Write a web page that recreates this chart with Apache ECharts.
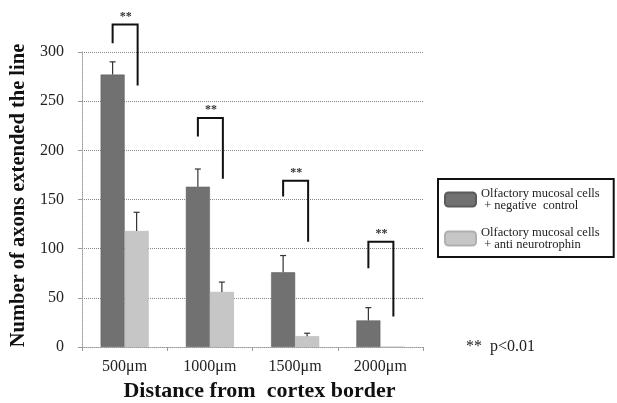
<!DOCTYPE html>
<html>
<head>
<meta charset="utf-8">
<script src="https://cdn.jsdelivr.net/npm/echarts@6/dist/echarts.min.js"></script>
<style>html,body{margin:0;padding:0;background:#fff}#c{width:617px;height:403px}</style>
</head>
<body>
<div id="c"></div>
<script>
var categories = ['500\u03bcm', '1000\u03bcm', '1500\u03bcm', '2000\u03bcm'];
var seriesNames = ['Olfactory mucosal cells\n + negative  control', 'Olfactory mucosal cells\n + anti neurotrophin'];
var controlValues = [277, 163, 76, 27];
var controlErrTop = [290, 181, 93, 40];
var antiValues = [118, 56, 11, 0];
var antiErrTop = [137, 66, 14, 0];
// significance brackets: [top, left end, right end]
var bracketTop = [328, 233, 169, 107];
var bracketLeftEnd = [309, 214, 153, 80];
var bracketRightEnd = [266, 171, 107, 31];
var sigLabel = '**';
var yTicks = [0, 50, 100, 150, 200, 250, 300];

var serif = '"Liberation Serif", "DejaVu Serif", serif';
var chart = echarts.init(document.getElementById('c'));

var errData = [];
for (var i = 0; i < categories.length; i++) {
  errData.push([i, controlValues[i], controlErrTop[i], -12]);
  if (antiErrTop[i] > antiValues[i]) errData.push([i, antiValues[i], antiErrTop[i], 12]);
}
var brData = [];
for (var j = 0; j < categories.length; j++) {
  brData.push([j, bracketTop[j], bracketLeftEnd[j], bracketRightEnd[j]]);
}

chart.setOption({
  animation: false,
  grid: {left: 82, right: 194, top: 52, bottom: 56, containLabel: false, outerBoundsMode: 'none'},
  legend: {
    orient: 'vertical',
    left: 438, top: 179,
    padding: [8, 14, 6, 6],
    borderColor: '#111', borderWidth: 2,
    itemWidth: 31, itemHeight: 14, itemGap: 14,
    data: seriesNames,
    textStyle: {fontFamily: serif, fontSize: 12.5, color: '#222', lineHeight: 12, align: 'left'}
  },
  xAxis: {
    type: 'category',
    data: categories,
    axisLine: {lineStyle: {color: '#999', type: 'dotted'}},
    axisTick: {show: true, length: 4, lineStyle: {color: '#999'}},
    axisLabel: {fontFamily: serif, fontSize: 16, color: '#222', margin: 12},
    name: 'Distance from  cortex border',
    nameLocation: 'middle', nameGap: 32,
    nameTextStyle: {fontFamily: serif, fontSize: 22, fontWeight: 'bold', color: '#111', padding: [0, 0, 0, 14]}
  },
  yAxis: {
    type: 'value', min: 0, max: 300, interval: 50,
    axisLine: {show: true, lineStyle: {color: '#999', type: 'dotted'}},
    axisTick: {show: true, length: 4, lineStyle: {color: '#999'}},
    splitLine: {lineStyle: {color: '#888', type: 'dotted'}},
    axisLabel: {fontFamily: serif, fontSize: 16, color: '#222', margin: 18},
    name: 'Number of axons extended the line',
    nameLocation: 'middle', nameGap: 50, nameRotate: 90,
    nameTextStyle: {fontFamily: serif, fontSize: 20.5, fontWeight: 'bold', color: '#111', padding: [0, 0, 0, 8]}
  },
  series: [
    {name: seriesNames[0], type: 'bar', data: controlValues, barWidth: 24, barGap: '0%',
     itemStyle: {color: '#717171', borderColor: '#5a5a5a', borderWidth: 0.5}},
    {name: seriesNames[1], type: 'bar', data: antiValues, barWidth: 24,
     itemStyle: {color: '#c6c6c6', borderColor: '#b0b0b0', borderWidth: 0.5}},
    {type: 'custom', data: errData, z: 5, silent: true,
     renderItem: function (params, api) {
       var base = api.coord([api.value(0), api.value(1)]);
       var top = api.coord([api.value(0), api.value(2)]);
       var x = base[0] + api.value(3);
       return {type: 'group', children: [
         {type: 'line', shape: {x1: x, y1: base[1], x2: x, y2: top[1]}, style: {stroke: '#333', lineWidth: 1.2}},
         {type: 'line', shape: {x1: x - 3, y1: top[1], x2: x + 3, y2: top[1]}, style: {stroke: '#333', lineWidth: 1.2}}
       ]};
     }},
    {type: 'custom', data: brData, z: 6, silent: true, clip: false,
     renderItem: function (params, api) {
       var c = api.coord([api.value(0), api.value(1)]);
       var l = api.coord([api.value(0), api.value(2)]);
       var r = api.coord([api.value(0), api.value(3)]);
       var xl = c[0] - 12, xr = c[0] + 13;
       return {type: 'group', children: [
         {type: 'polyline', shape: {points: [[xl, l[1]], [xl, c[1]], [xr, c[1]], [xr, r[1]]]},
          style: {stroke: '#111', lineWidth: 2, fill: null}},
         {type: 'text', style: {text: sigLabel, x: c[0] + 1, y: c[1] - 2, align: 'center', verticalAlign: 'bottom',
          font: 'bold 12px ' + serif, fill: '#333'}}
       ]};
     }}
  ],
  graphic: [
    {type: 'text', left: 466, top: 339, style: {text: '**  p<0.01', font: '16px ' + serif, fill: '#222'}}
  ]
});
</script>
</body>
</html>
